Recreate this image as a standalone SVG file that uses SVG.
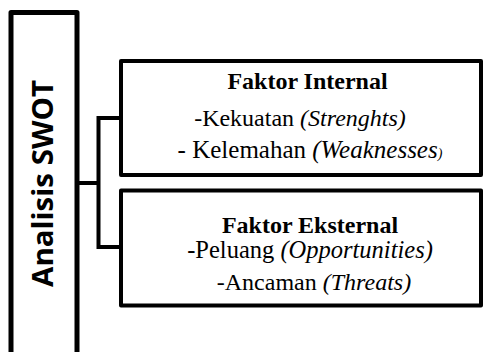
<svg xmlns="http://www.w3.org/2000/svg" width="492" height="352" viewBox="0 0 492 352">
<style>
.box{fill:#fff;stroke:#000;stroke-width:4;stroke-linejoin:round}
.main{fill:#fff;stroke:#000;stroke-width:5;stroke-linejoin:round}
.conn{fill:none;stroke:#000;stroke-width:4;stroke-linejoin:miter}
.t{font-size:24px;fill:#000;text-anchor:middle}
.b{font-weight:bold}
.i{font-style:italic}
.side{font-weight:bold;font-size:29px;fill:#000;text-anchor:middle}
</style>
<rect width="492" height="352" fill="#fff"/>
<g id="connectors">
<path class="conn" d="M77,183 H98.5"/>
<path class="conn" d="M121,118 H98.5 V247 H121"/>
</g>
<g id="node-swot">
<path class="main" d="M11,360 V12.5 H77 V360"/>
<text class="side" font-family="'Open Sans', 'Liberation Sans', sans-serif" transform="translate(53,183.5) rotate(-90)" textLength="207" lengthAdjust="spacingAndGlyphs">Analisis SWOT</text>
</g>
<g id="node-internal" font-family="'Liberation Serif', 'Times New Roman', serif">
<rect class="box" x="121" y="61" width="360" height="114"/>
<text class="t b" x="307.5" y="89">Faktor Internal</text>
<text class="t" x="300" y="126">-Kekuatan <tspan class="i">(Strenghts)</tspan></text>
<text class="t" x="310" y="158" style="font-size:25px">- Kelemahan <tspan class="i">(Weaknesses</tspan><tspan class="i" style="font-size:14px">)</tspan></text>
</g>
<g id="node-external" font-family="'Liberation Serif', 'Times New Roman', serif">
<rect class="box" x="121" y="190.5" width="360" height="115"/>
<text class="t b" x="310" y="233">Faktor Eksternal</text>
<text class="t" x="310" y="258" style="font-size:24.5px">-Peluang <tspan class="i">(Opportunities)</tspan></text>
<text class="t" x="314" y="290">-Ancaman <tspan class="i">(Threats)</tspan></text>
</g>
</svg>
